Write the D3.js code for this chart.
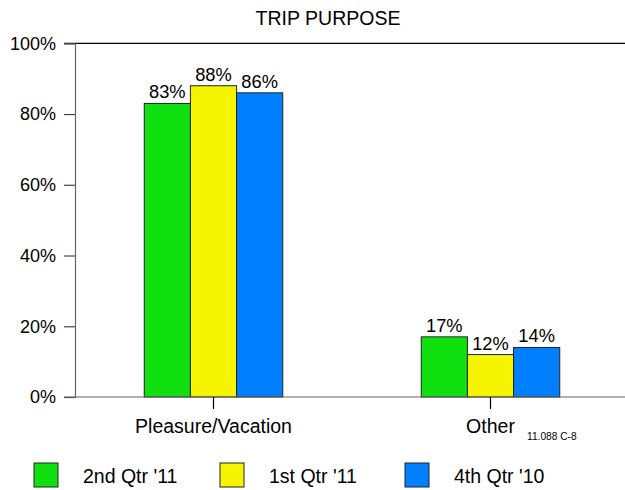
<!DOCTYPE html>
<html>
<head>
<meta charset="utf-8">
<script src="https://cdn.jsdelivr.net/npm/d3@7"></script>
<style>
  html, body { margin: 0; padding: 0; background: #fff; }
  svg { display: block; font-family: Arial, "Liberation Sans", sans-serif; }
</style>
</head>
<body>
<svg id="chart" width="625" height="490"></svg>
<script>
// Trip purpose shares by quarter
const categories = ["Pleasure/Vacation", "Other"];
const seriesNames = ["2nd Qtr '11", "1st Qtr '11", "4th Qtr '10"];
const q2_11 = [83, 17];
const q1_11 = [88, 12];
const q4_10 = [86, 14];
const yTicks = [0, 20, 40, 60, 80, 100];
const colors = ["#10e010", "#f5f500", "#0080ff"];

const series = [q2_11, q1_11, q4_10];

const svg = d3.select("#chart");
const plotLeft = 75, plotTop = 43.3, plotBottom = 397;
const fontFam = "Arial, 'Liberation Sans', sans-serif";

const x = d3.scaleBand().domain(categories).range([plotLeft, 629]).paddingInner(0).paddingOuter(0);
const inner = d3.scaleBand().domain(d3.range(series.length)).range([0, x.bandwidth()]).paddingInner(0).paddingOuter(1.5);
const y = d3.scaleLinear().domain([0, 100]).range([plotBottom, plotTop]);

// title
svg.append("text").attr("x", 328).attr("y", 25).attr("text-anchor", "middle")
  .attr("font-size", 19.5).text("TRIP PURPOSE");

// top frame line at 100%
svg.append("line").attr("x1", 64).attr("x2", 625).attr("y1", y(100)).attr("y2", y(100))
  .attr("stroke", "#000").attr("stroke-width", 1.2);

// y axis
const yAxis = d3.axisLeft(y).tickValues(yTicks).tickFormat(d => d + "%").tickSize(11).tickPadding(8);
const gy = svg.append("g").attr("transform", `translate(${plotLeft},0)`).call(yAxis);
gy.select(".domain").attr("stroke", "#666").attr("stroke-width", 1.2);
gy.selectAll(".tick line").attr("stroke", "#444").attr("stroke-width", 1.2);
gy.selectAll(".tick text").attr("font-size", 18).attr("fill", "#000").attr("font-family", fontFam);

// bars
series.forEach((vals, si) => {
  svg.append("g").selectAll("rect").data(categories).join("rect")
    .attr("x", c => x(c) + inner(si))
    .attr("y", (c, i) => y(vals[i]))
    .attr("width", inner.bandwidth())
    .attr("height", (c, i) => y(0) - y(vals[i]))
    .attr("fill", colors[si])
    .attr("stroke", "#222").attr("stroke-width", 1);
  svg.append("g").selectAll("text").data(categories).join("text")
    .attr("x", c => x(c) + inner(si) + inner.bandwidth() / 2)
    .attr("y", (c, i) => y(vals[i]) - 5)
    .attr("text-anchor", "middle").attr("font-size", 18.3)
    .text((c, i) => vals[i] + "%");
});

// x axis baseline and category ticks
svg.append("line").attr("x1", 64).attr("x2", 625).attr("y1", y(0)).attr("y2", y(0))
  .attr("stroke", "#666").attr("stroke-width", 1.2);
const xAxis = d3.axisBottom(x).tickSize(12).tickPadding(10);
const gx = svg.append("g").attr("transform", `translate(0,${plotBottom})`).call(xAxis);
gx.select(".domain").remove();
gx.selectAll(".tick line").attr("stroke", "#000").attr("stroke-width", 1.2);
gx.selectAll(".tick text").attr("font-size", 19.5).attr("fill", "#000").attr("font-family", fontFam);

// reference code
svg.append("text").attr("x", 527).attr("y", 440).attr("font-size", 10.2).text("11.088 C-8");

// legend
const legendX = [34, 220, 405];
seriesNames.forEach((name, i) => {
  svg.append("rect").attr("x", legendX[i]).attr("y", 463).attr("width", 24).attr("height", 24)
    .attr("fill", colors[i]).attr("stroke", "#222").attr("stroke-width", 1);
  svg.append("text").attr("x", legendX[i] + 49).attr("y", 483).attr("font-size", 19.5).text(name);
});
</script>
</body>
</html>
